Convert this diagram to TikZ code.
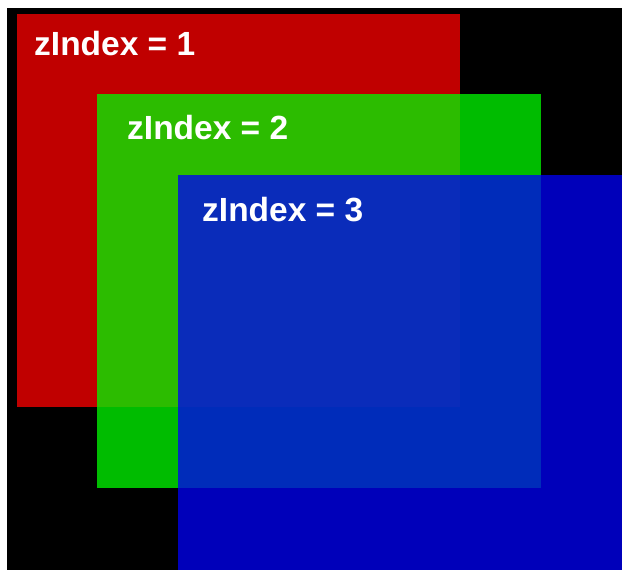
\documentclass[tikz,border=0pt]{standalone}
\usepackage{fontspec}
\setmainfont{Liberation Sans}
\definecolor{zred}{RGB}{192,0,0}
\definecolor{zgreen}{RGB}{0,245,0}
\definecolor{zblue}{RGB}{0,0,245}
\begin{document}
\begin{tikzpicture}[x=1pt,y=-1pt]
  \tikzset{zlabel/.style={anchor=base west,inner sep=0pt,text=white,font=\bfseries\fontsize{33.5}{33.5}\selectfont}}
  \useasboundingbox (0,0) rectangle (623,571);
  % backdrop and the three layers
  \fill[black] (7,8) rectangle (622,570);
  \fill[zred] (17,14) rectangle (460,407);
  \fill[zgreen, fill opacity=0.77] (97,94) rectangle (541,488);
  \fill[zblue, fill opacity=0.76] (178,175) rectangle (622,570);
  \node[zlabel] (label1) at (34,55) {zIndex = 1};
  \node[zlabel] (label2) at (127,139) {zIndex = 2};
  \node[zlabel] (label3) at (202,221) {zIndex = 3};
\end{tikzpicture}
\end{document}
